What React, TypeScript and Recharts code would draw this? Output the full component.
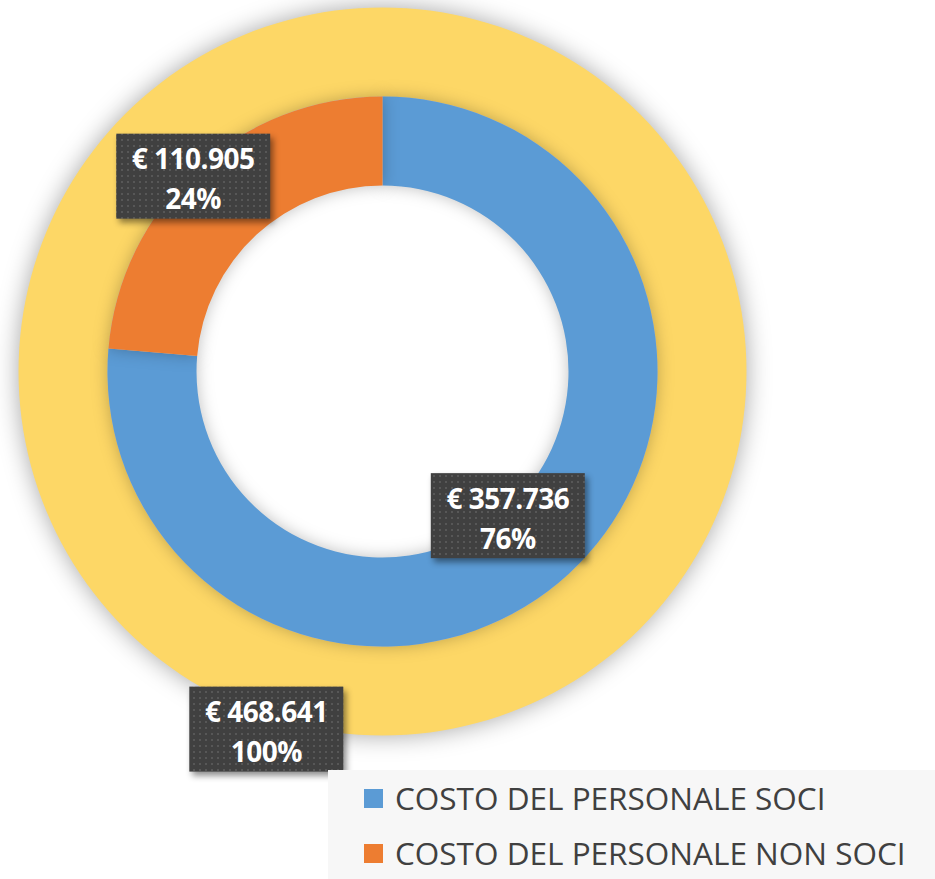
import React from 'react';
import { PieChart, Pie, Cell, Legend } from 'recharts';

const categories = ['COSTO DEL PERSONALE SOCI', 'COSTO DEL PERSONALE NON SOCI'];
const values = [357736, 110905];
const totalLabel = ['TOTALE'];
const totalValues = [468641];

const COLORS = ['#5B9BD5', '#ED7D31'];
const TOTAL_COLOR = '#FDD766';

const innerData = categories.map((name, i) => ({ name, value: values[i] }));
const totalData = totalLabel.map((name, i) => ({ name, value: totalValues[i] }));

// label anchor placement (angle in degrees, radius in px) — styling only
const INNER_ANCHORS = [
  { angle: -49, r: 191 },
  { angle: 134.1, r: 272 },
];
const OUTER_ANCHORS = [{ angle: -108, r: 376 }];

const RAD = Math.PI / 180;
const fmt = (v: number) => '€ ' + String(v).replace(/\B(?=(\d{3})+(?!\d))/g, '.');

const makeLabel = (anchors: { angle: number; r: number }[]) => (props: any) => {
  const { cx, cy, index, value, percent } = props;
  const a = anchors[index] || anchors[0];
  const x = cx + a.r * Math.cos(a.angle * RAD);
  const y = cy - a.r * Math.sin(a.angle * RAD);
  const w = 154;
  const h = 85;
  return (
    <g key={'lbl' + index}>
      <rect
        x={x - w / 2}
        y={y - h / 2}
        width={w}
        height={h}
        fill="url(#dotPattern)"
        style={{ filter: 'drop-shadow(3px 4px 3px rgba(0,0,0,0.45))' }}
      />
      <text
        x={x}
        y={y - 18}
        textAnchor="middle"
        dominantBaseline="central"
        fill="#ffffff"
        fontFamily="'Open Sans', sans-serif"
        fontWeight={700}
        fontSize={28}
        letterSpacing={-0.5}
      >
        {fmt(value)}
      </text>
      <text
        x={x}
        y={y + 22}
        textAnchor="middle"
        dominantBaseline="central"
        fill="#ffffff"
        fontFamily="'Open Sans', sans-serif"
        fontWeight={700}
        fontSize={28}
        letterSpacing={-0.5}
      >
        {Math.round(percent * 100) + '%'}
      </text>
    </g>
  );
};

const LegendContent = () => (
  <div
    style={{
      width: 607,
      height: 109,
      background: '#f7f7f7',
      position: 'relative',
      fontFamily: "'Open Sans', sans-serif",
      color: '#404040',
    }}
  >
    {categories.map((c, i) => (
      <div
        key={c}
        style={{
          position: 'absolute',
          left: 36,
          top: 28 + i * 55 - 18,
          height: 36,
          display: 'flex',
          alignItems: 'center',
          whiteSpace: 'nowrap',
        }}
      >
        <span style={{ display: 'inline-block', width: 19, height: 19, background: COLORS[i], marginRight: 12 }} />
        <span style={{ fontSize: 31.5, lineHeight: '36px' }}>{c}</span>
      </div>
    ))}
  </div>
);

export default function App() {
  return (
    <div style={{ position: 'absolute', left: 0, top: 0, width: 935, height: 879, background: '#ffffff' }}>
      <svg width={0} height={0} style={{ position: 'absolute' }}>
        <defs>
          <pattern id="dotPattern" x={0} y={0} width={6} height={6} patternUnits="userSpaceOnUse">
            <rect x={0} y={0} width={6} height={6} fill="#404040" />
            <rect x={1} y={1} width={2} height={2} fill="#575757" />
          </pattern>
        </defs>
      </svg>
      <PieChart width={935} height={879} margin={{ top: 0, right: 0, bottom: 0, left: 0 }}>
        <Pie
          data={totalData}
          dataKey="value"
          nameKey="name"
          cx={382.5}
          cy={371.5}
          innerRadius={275}
          outerRadius={364}
          startAngle={90}
          endAngle={-270}
          stroke="none"
          isAnimationActive={false}
          labelLine={false}
          label={makeLabel(OUTER_ANCHORS)}
        >
          {totalData.map((d) => (
            <Cell key={d.name} fill={TOTAL_COLOR} style={{ filter: 'drop-shadow(0px 0px 12px rgba(0,0,0,0.35))' }} />
          ))}
        </Pie>
        <Pie
          data={innerData}
          dataKey="value"
          nameKey="name"
          cx={382.5}
          cy={371.5}
          innerRadius={186}
          outerRadius={275}
          startAngle={90}
          endAngle={-270}
          stroke="none"
          isAnimationActive={false}
          labelLine={false}
          label={makeLabel(INNER_ANCHORS)}
        >
          {innerData.map((d, i) => (
            <Cell key={d.name} fill={COLORS[i]} style={{ filter: 'drop-shadow(0px 0px 8px rgba(0,0,0,0.25))' }} />
          ))}
        </Pie>
        <Legend
          content={<LegendContent />}
          wrapperStyle={{ position: 'absolute', left: 328, top: 770, width: 607, height: 109 }}
        />
      </PieChart>
    </div>
  );
}
